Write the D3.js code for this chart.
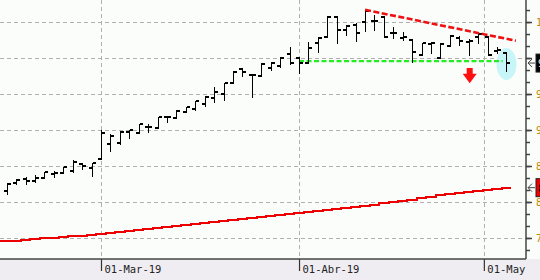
<!DOCTYPE html>
<html><head><meta charset="utf-8">
<script src="https://cdn.jsdelivr.net/npm/d3@7"></script>
<style>html,body{margin:0;padding:0;background:#fbfdfb;overflow:hidden}</style>
</head><body>
<svg id="c" width="540" height="280"></svg>
<script>
// Trading sessions 15-Feb-19 .. 06-May-19 (index 0..53)
const open  = [8.15,8.26,8.32,8.29,8.33,8.39,8.40,8.43,8.53,8.47, 8.60,8.81,8.82,8.97,8.96,9.04,9.03,9.18,9.17,9.25, 9.29,9.36,9.44,9.50,9.65,9.85,9.76,9.75,9.86,9.89, 10.06,10.00,9.93,10.21,10.29,10.57,10.39,10.46,10.50,10.51, 10.57,10.35,10.28,10.25,10.04,10.19,10.00,10.17,10.28,10.22, 10.29,10.29,10.10,10.07];
const high  = [8.26,8.32,8.35,8.38,8.42,8.43,8.49,8.58,8.54,8.54, 9.00,8.94,8.99,9.00,9.08,9.08,9.18,9.19,9.28,9.32, 9.40,9.47,9.60,9.65,9.82,9.86,9.78,9.93,9.94,10.01, 10.15,10.00,10.22,10.29,10.58,10.58,10.46,10.49,10.67,10.60, 10.57,10.43,10.36,10.25,10.21,10.22,10.21,10.32,10.31,10.26, 10.35,10.29,10.15,10.07];
const low   = [8.11,8.25,8.25,8.28,8.33,8.35,8.40,8.42,8.46,8.36, 8.60,8.71,8.81,8.89,8.96,8.97,9.03,9.11,9.17,9.25, 9.28,9.33,9.39,9.42,9.65,9.75,9.46,9.75,9.83,9.88, 9.92,9.79,9.93,10.08,10.29,10.21,10.32,10.24,10.38,10.39, 10.29,10.28,10.25,9.94,10.04,10.07,10.00,10.17,10.18,10.04, 10.21,10.04,10.07,9.82];
const close = [8.25,8.31,8.29,8.33,8.42,8.40,8.49,8.56,8.50,8.54, 8.96,8.92,8.97,9.00,9.08,9.04,9.18,9.18,9.26,9.32, 9.40,9.46,9.53,9.65,9.81,9.81,9.76,9.92,9.93,10.00, 9.93,9.93,10.14,10.28,10.57,10.39,10.44,10.35,10.65,10.51, 10.29,10.35,10.29,10.08,10.21,10.21,10.19,10.31,10.24,10.24, 10.33,10.04,10.11,9.93];
const maValues = [7.456,7.465,7.475,7.485,7.494,7.504,7.514,7.524,7.533,7.543, 7.553,7.567,7.581,7.594,7.608,7.621,7.635,7.647,7.661,7.675, 7.689,7.703,7.717,7.731,7.744,7.760,7.774,7.787,7.801,7.815, 7.829,7.843,7.858,7.874,7.889,7.904,7.919,7.935,7.950,7.965, 7.981,7.996,8.011,8.028,8.050,8.072,8.094,8.110,8.125,8.140, 8.156,8.171,8.185,8.199];
const monthTicks  = [10, 31, 50.6];
const monthLabels = ["01-Mar-19", "01-Abr-19", "01-May"];
const priceTicks  = [7.5, 8, 8.5, 9, 9.5, 10, 10.5];
const resistanceIdx = [38, 54], resistanceVal = [10.67, 10.24];
const supportIdx = [31, 52.6], supportVal = [9.958, 9.958];
const highlightIdx = 53, highlightVal = 9.917;
const arrowIdx = 49.1, arrowVals = [9.86, 9.78, 9.65];

const W = 540, H = 280, plotR = 526, plotB = 259;
const svg = d3.select("#c");
const x = d3.scaleLinear().domain([-0.71, 55.07]).range([0, plotR]);
const y = d3.scaleLinear().domain([7.208, 10.806]).range([plotB, 0]);
const n = close.length;

svg.append("rect").attr("width", W).attr("height", H).attr("fill", "#fbfdfb");
svg.append("rect").attr("y", plotB).attr("width", W).attr("height", H - plotB).attr("fill", "#efedf2");

// grid
const grid = svg.append("g").attr("stroke", "#b0b0b0").attr("stroke-dasharray", "4,3").attr("shape-rendering", "crispEdges");
grid.selectAll("line.h").data(priceTicks).join("line").attr("class", "h")
  .attr("x1", 0).attr("x2", plotR)
  .attr("y1", d => Math.round(y(d)) + 0.5).attr("y2", d => Math.round(y(d)) + 0.5);
grid.selectAll("line.v").data(monthTicks).join("line").attr("class", "v")
  .attr("y1", 0).attr("y2", plotB)
  .attr("x1", d => Math.round(x(d)) + 0.5).attr("x2", d => Math.round(x(d)) + 0.5);

// moving average (step)
const maPts = maValues.map((v, i) => ({ i: i === 0 ? x.domain()[0] : i - 0.5, v }));
maPts.push({ i: n - 0.5, v: maValues[n - 1] });
svg.append("path").datum(maPts)
  .attr("fill", "none").attr("stroke", "#ee0000").attr("stroke-width", 2)
  .attr("shape-rendering", "crispEdges")
  .attr("d", d3.line().x(d => Math.round(x(d.i))).y(d => Math.round(y(d.v))).curve(d3.curveStepAfter));

// highlight ellipse
svg.append("ellipse").attr("cx", x(highlightIdx)).attr("cy", y(highlightVal))
  .attr("rx", 10).attr("ry", 16).attr("fill", "#c8f5f8");

// support line
svg.append("line")
  .attr("x1", x(supportIdx[0])).attr("x2", x(supportIdx[1]))
  .attr("y1", y(supportVal[0])).attr("y2", y(supportVal[1]))
  .attr("stroke", "#22ee22").attr("stroke-width", 2.2).attr("stroke-dasharray", "5,2.5");

// OHLC bars
const bars = svg.append("g").attr("stroke", "#000").attr("shape-rendering", "crispEdges");
d3.range(n).forEach(i => {
  const cx = Math.round(x(i)) + 0.5;
  bars.append("line").attr("x1", cx).attr("x2", cx).attr("y1", Math.round(y(high[i]))).attr("y2", Math.round(y(low[i])) + 1).attr("stroke-width", 1.6);
  bars.append("line").attr("x1", cx - 3.5).attr("x2", cx).attr("y1", Math.round(y(open[i]))).attr("y2", Math.round(y(open[i]))).attr("stroke-width", 2);
  bars.append("line").attr("x1", cx).attr("x2", cx + 3.5).attr("y1", Math.round(y(close[i]))).attr("y2", Math.round(y(close[i]))).attr("stroke-width", 2);
});

// resistance line
svg.append("line")
  .attr("x1", x(resistanceIdx[0])).attr("x2", x(resistanceIdx[1]))
  .attr("y1", y(resistanceVal[0])).attr("y2", y(resistanceVal[1]))
  .attr("stroke", "#ee1111").attr("stroke-width", 2.6).attr("stroke-dasharray", "6,2.5");

// down arrow
{
  const cx = x(arrowIdx), t = y(arrowVals[0]), m = y(arrowVals[1]), b = y(arrowVals[2]);
  svg.append("polygon").attr("fill", "#ff1010")
    .attr("points", [[cx-3,t],[cx+3,t],[cx+3,m],[cx+7,m],[cx,b],[cx-7,m],[cx-3,m]].map(p => p.join(",")).join(" "));
}

// right axis
const lastClose = close[n - 1], lastMA = maValues[n - 1];
const hiddenByBox = v => Math.abs(y(v) - y(lastClose)) < 12 || Math.abs(y(v) - y(lastMA)) < 12;
const ax = svg.append("g").attr("transform", `translate(${plotR},0)`);
const minor = d3.range(-2, 21).map(k => 7.5 + k / 6).filter(v => v > y.domain()[0] && v < y.domain()[1]);
ax.append("g").call(d3.axisRight(y).tickValues(minor).tickSize(4).tickFormat(""))
  .call(g => g.select(".domain").remove())
  .call(g => g.selectAll("line").attr("stroke", "#444").attr("stroke-width", 1.5));
ax.append("g").call(d3.axisRight(y).tickValues(priceTicks).tickSize(6).tickPadding(4)
    .tickFormat(v => hiddenByBox(v) ? "" : d3.format(".2f")(v)))
  .call(g => g.select(".domain").remove())
  .call(g => g.selectAll("line").attr("stroke", "#444").attr("stroke-width", 1.5))
  .call(g => g.selectAll("text").attr("fill", "#c08800").attr("font-family", "DejaVu Sans Mono").attr("font-size", 10));
svg.append("line").attr("x1", plotR).attr("x2", plotR).attr("y1", 0).attr("y2", plotB)
  .attr("stroke", "#444").attr("stroke-width", 1.5);

// bottom axis
const bx = svg.append("g").attr("transform", `translate(0,${plotB})`);
bx.call(d3.axisBottom(x).tickValues(monthTicks).tickSize(12).tickFormat((d, i) => monthLabels[i]))
  .call(g => g.select(".domain").remove())
  .call(g => g.selectAll("line").attr("stroke", "#333").attr("stroke-width", 1.2))
  .call(g => g.selectAll("text").attr("fill", "#222").attr("font-family", "DejaVu Sans Mono").attr("font-size", 10.5)
    .attr("text-anchor", "start").attr("x", 3).attr("y", 14).attr("dy", 0));
svg.append("line").attr("x1", 0).attr("x2", plotR).attr("y1", plotB).attr("y2", plotB)
  .attr("stroke", "#444").attr("stroke-width", 1.5);

// value markers
function marker(val, fill, label, txt) {
  const yy = y(val);
  svg.append("path").attr("fill", "none").attr("stroke", "#444").attr("stroke-width", 1)
    .attr("d", `M532,${yy - 4}L528,${yy}L532,${yy + 4}M528,${yy}H535`);
  svg.append("rect").attr("x", 536).attr("y", yy - 9).attr("width", 34).attr("height", 18)
    .attr("fill", fill).attr("stroke", "#222").attr("stroke-width", 1);
  svg.append("text").attr("x", 538).attr("y", yy + 4).attr("fill", txt)
    .attr("font-family", "DejaVu Sans Mono").attr("font-size", 10).text(label);
}
marker(lastClose, "#000", d3.format(".2f")(lastClose), "#fff");
marker(lastMA, "#ee0000", d3.format(".2f")(lastMA), "#000");
</script>
</body></html>
